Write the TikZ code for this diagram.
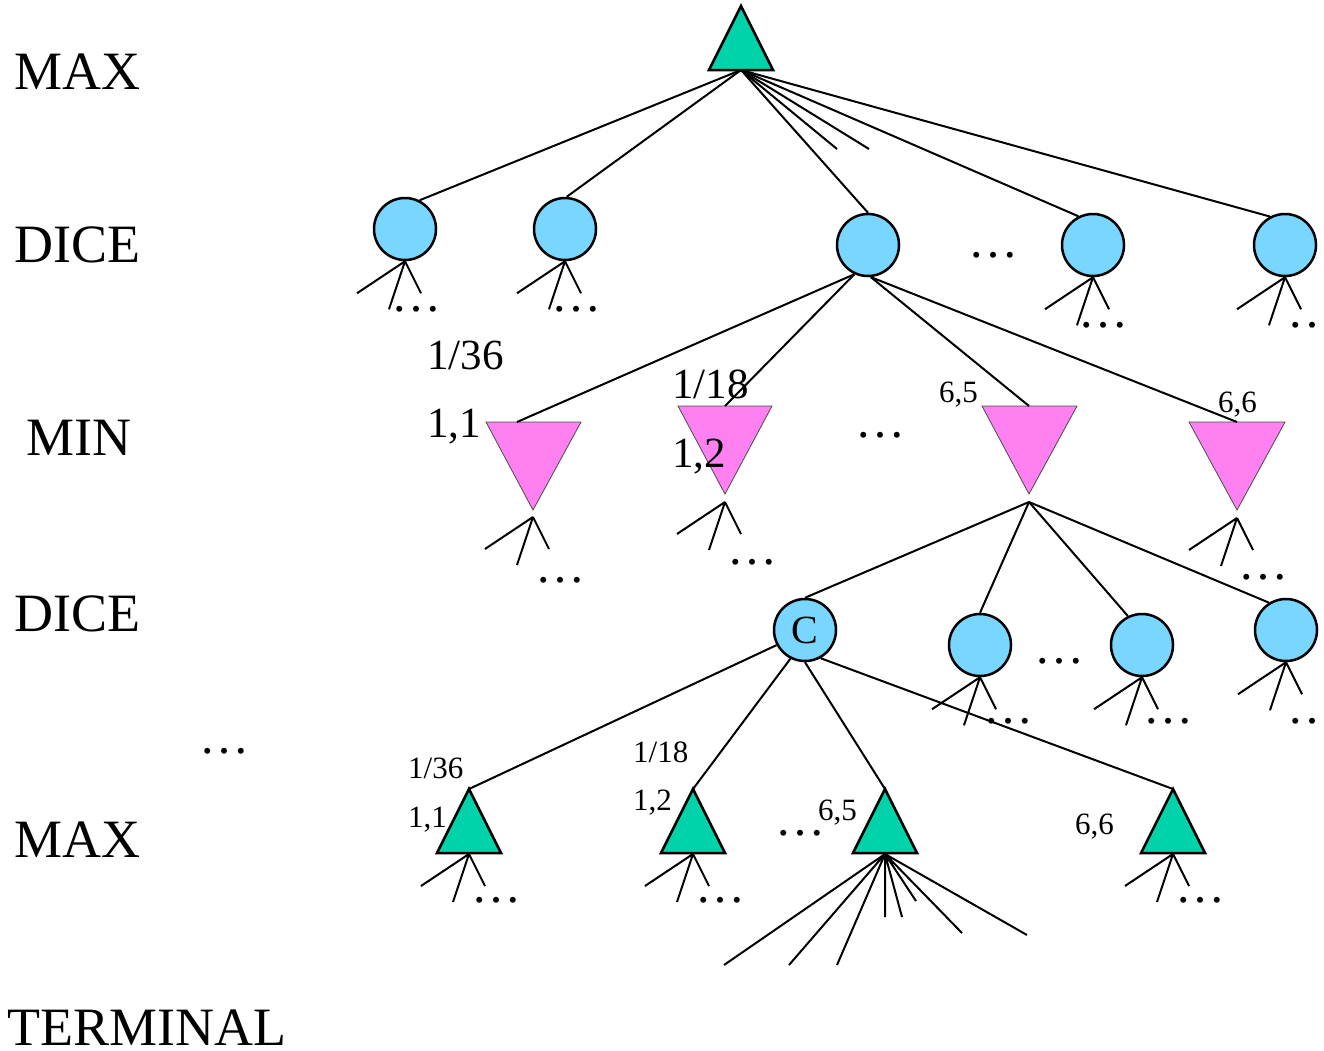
\documentclass[tikz,border=0pt]{standalone}
\usepackage{fontspec}
\setmainfont{Liberation Serif}
\definecolor{maxc}{RGB}{0,210,170}
\definecolor{dicec}{RGB}{120,214,255}
\definecolor{minc}{RGB}{255,128,240}
\newcommand\mystubs[1]{\draw[edge] (#1) -- ++(-48,32) (#1) -- ++(-16,48) (#1) -- ++(16,32);}
\begin{document}
\begin{tikzpicture}[x=1pt,y=-1pt,
  edge/.style={line width=2pt, black},
  dice/.style={circle, draw, line width=2.5pt, fill=dicec, minimum size=62pt, inner sep=0pt},
  maxtri/.style={draw, line width=2.5pt, fill=maxc, line join=miter},
  mintri/.style={draw=black!70, line width=0.8pt, fill=minc},
  lvl/.style={font=\fontsize{54}{60}\selectfont, inner sep=0pt, anchor=base west},
  big/.style={font=\fontsize{43}{50}\selectfont, inner sep=0pt, anchor=base west},
  small/.style={font=\fontsize{31}{36}\selectfont, inner sep=0pt, anchor=base west},
  dots/.style={font=\fontsize{50}{56}\selectfont, inner sep=0pt, yshift=-5pt}]
\useasboundingbox (0,0) rectangle (1324,1050);
\fill[white] (0,0) rectangle (1324,1050);

% ---- shapes ----
\draw[maxtri] (741,6) -- (773,70) -- (709,70) -- cycle;
\coordinate (m0) at (741,70);
\coordinate (f1) at (837,149);
\coordinate (f2) at (869,149);

\node[dice] (d1) at (405,229) {};
\node[dice] (d2) at (565,229) {};
\node[dice] (d3) at (868,245) {};
\node[dice] (d4) at (1093,245) {};
\node[dice] (d5) at (1285,245) {};

\draw[mintri] (486,422) -- (581,422) -- (533,510) -- cycle;
\draw[mintri] (678,406) -- (772,406) -- (725,494) -- cycle;
\draw[mintri] (982,406) -- (1077,406) -- (1029,494) -- cycle;
\draw[mintri] (1189,422) -- (1285,422) -- (1237,510) -- cycle;
\coordinate (n1t) at (517,422); \coordinate (n1s) at (533,517);
\coordinate (n2t) at (725,406); \coordinate (n2s) at (725,502);
\coordinate (n3t) at (1029,406); \coordinate (n3s) at (1029,502);
\coordinate (n4t) at (1237,422); \coordinate (n4s) at (1237,518);

\node[dice, font=\fontsize{40}{44}\selectfont] (e1) at (805,630) {C};
\node[dice] (e2) at (980,645) {};
\node[dice] (e3) at (1142,645) {};
\node[dice] (e4) at (1286,630) {};

\foreach \i/\x in {1/469,2/693,3/885,4/1173}{
  \draw[maxtri] (\x,789) -- (\x+32,853) -- (\x-32,853) -- cycle;
  \coordinate (b\i t) at (\x,789);
  \coordinate (b\i s) at (\x,854);
}

% ---- connectors ----
\draw[edge] (m0) -- (d1.63);
\draw[edge] (m0) -- (d2.87);
\draw[edge] (m0) -- (d3.north);
\draw[edge] (m0) -- (f1);
\draw[edge] (m0) -- (f2);
\draw[edge] (m0) -- (d4.117);
\draw[edge] (m0) -- (d5.118);

\draw[edge] (d3.-115) -- (n1t);
\draw[edge] (d3.-115) -- (n2t);
\draw[edge] (d3.-85) -- (n3t);
\draw[edge] (d3.-85) -- (n4t);

\draw[edge] (n3s) -- (e1.north);
\draw[edge] (n3s) -- (e2.north);
\draw[edge] (n3s) -- (e3.116);
\draw[edge] (n3s) -- (e4.122);

\draw[edge] (e1.208) -- (b1t);
\draw[edge] (e1.243) -- (b2t);
\draw[edge] (e1.south) -- (b3t);
\draw[edge] (e1.299) -- (b4t);

% ---- stubs ----
\mystubs{d1.south}
\mystubs{d2.south}
\mystubs{d4.south}
\mystubs{d5.south}
\mystubs{n1s}
\mystubs{n2s}
\mystubs{n4s}
\mystubs{e2.south}
\mystubs{e3.south}
\mystubs{e4.south}
\mystubs{b1s}
\mystubs{b2s}
\mystubs{b4s}
\draw[edge] (b3s) -- ++(-161,111) (b3s) -- ++(-96,111) (b3s) -- ++(-48,111)
  (b3s) -- ++(0,63) (b3s) -- ++(17,63) (b3s) -- ++(31,47)
  (b3s) -- ++(77,79) (b3s) -- ++(142,81);

% ---- dots ----
\node[dots] (x1) at (416,304) {\ldots};
\node[dots] (x2) at (576,304) {\ldots};
\node[dots] (x3) at (993,250) {\ldots};
\node[dots] (x4) at (1103,320) {\ldots};
\node[dots] (x5) at (1312,320) {\ldots};
\node[dots] (x6) at (560,575) {\ldots};
\node[dots] (x7) at (752,557) {\ldots};
\node[dots] (x8) at (880,430) {\ldots};
\node[dots] (x9) at (1263,572) {\ldots};
\node[dots] (x10) at (1008,716) {\ldots};
\node[dots] (x11) at (1059,656) {\ldots};
\node[dots] (x12) at (1168,716) {\ldots};
\node[dots] (x13) at (1312,716) {\ldots};
\node[dots] (x14) at (224,746) {\ldots};
\node[dots] (x15) at (800,828) {\ldots};
\node[dots] (x16) at (496,895) {\ldots};
\node[dots] (x17) at (720,895) {\ldots};
\node[dots] (x18) at (1200,895) {\ldots};

% ---- labels ----
\node[lvl] (lmax1) at (14,89) {MAX};
\node[lvl] (ldice1) at (14,262) {DICE};
\node[lvl] (lmin) at (26,455) {MIN};
\node[lvl] (ldice2) at (14,631) {DICE};
\node[lvl] (lmax2) at (14,857) {MAX};
\node[lvl] (lterm) at (7,1045) {TERMINAL};

\node[big] (p1) at (427,369) {1/36};
\node[big] (p2) at (427,437) {1,1};
\node[big] (p3) at (672,398) {1/18};
\node[big] (p4) at (672,467) {1,2};

\node[small] (q1) at (939,402) {6,5};
\node[small] (q2) at (1218,412) {6,6};
\node[small] (q3) at (408,778) {1/36};
\node[small] (q4) at (408,827) {1,1};
\node[small] (q5) at (633,762) {1/18};
\node[small] (q6) at (633,810) {1,2};
\node[small] (q7) at (818,820) {6,5};
\node[small] (q8) at (1075,834) {6,6};
\end{tikzpicture}
\end{document}
